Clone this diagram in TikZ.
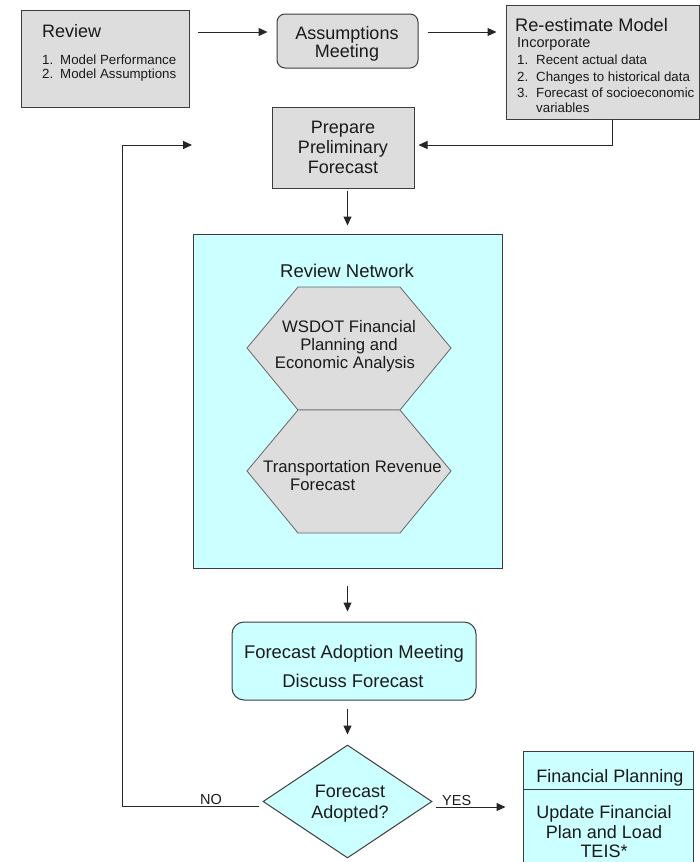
\documentclass[tikz,border=0pt]{standalone}
\usepackage{fontspec}
\setmainfont{Liberation Sans}
\usetikzlibrary{arrows.meta,shapes.geometric,calc}
\definecolor{boxgray}{HTML}{DDDDDD}
\definecolor{boxcyan}{HTML}{CCFFFF}
\definecolor{edgecol}{HTML}{3C3C3C}
\definecolor{txtcol}{HTML}{1A1A1A}
\newcommand{\fsz}[1]{\fontsize{#1}{#1}\selectfont}
\begin{document}
\begin{tikzpicture}[x=1pt,y=-1pt,
  box/.style={draw=edgecol,line width=1pt,inner sep=0pt},
  txt/.style={anchor=base,inner sep=0pt,text=txtcol},
  txtl/.style={anchor=base west,inner sep=0pt,text=txtcol},
  arr/.style={draw=black!85,line width=1pt,-{Triangle[length=9pt,width=8pt]}},
  hexa/.style={draw=black!60,line width=0.8pt,fill=boxgray}]
\useasboundingbox (0,0) rectangle (700,862);

% ---- boxes
\node[box,fill=boxgray,minimum width=168,minimum height=97] (review) at (105,58.5) {};
\node[box,fill=boxgray,rounded corners=8pt,minimum width=141,minimum height=54] (assume) at (347.5,41) {};
\node[box,fill=boxgray,minimum width=193,minimum height=114] (reest) at (602.5,62) {};
\node[box,fill=boxgray,minimum width=142,minimum height=81] (prepare) at (343,147.5) {};
\node[box,fill=boxcyan,minimum width=309,minimum height=334] (net) at (347.5,401) {};
\node[box,fill=boxcyan,rounded corners=12pt,minimum width=244,minimum height=78] (fam) at (354,661) {};
\node[box,diamond,fill=boxcyan,minimum width=169,minimum height=113] (dia) at (347.5,801.5) {};
\node[box,fill=boxcyan,minimum width=170,minimum height=129] (fin) at (608,815.5) {};
\draw[edgecol,line width=1pt] (fin.west |- 0,789) -- (fin.east |- 0,789);

% ---- hexagons
\draw[hexa] (247,348) -- (298,287) -- (400,287) -- (451,348) -- (400,410) -- (298,410) -- cycle;
\draw[hexa] (247,471) -- (298,410) -- (400,410) -- (451,471) -- (400,533) -- (298,533) -- cycle;

% ---- texts
\node[txtl,font=\fsz{18}] (t1) at (42,37.5) {Review};
\node[txtl,font=\fsz{13.3}] (t2) at (42,64) {1.};
\node[txtl,font=\fsz{13.3}] (t3) at (60,64) {Model Performance};
\node[txtl,font=\fsz{13.3}] (t4) at (42,78) {2.};
\node[txtl,font=\fsz{13.3}] (t5) at (60,78) {Model Assumptions};

\node[txt,font=\fsz{18}] (t6) at (347,39) {Assumptions};
\node[txt,font=\fsz{18}] (t7) at (347,57.5) {Meeting};

\node[txtl,font=\fsz{18.2}] (t8) at (515,31.5) {Re-estimate Model};
\node[txtl,font=\fsz{14.5}] (t9) at (517,47) {Incorporate};
\node[txtl,font=\fsz{13.3}] (t10) at (517,64) {1.};
\node[txtl,font=\fsz{13.3}] (t11) at (536,64) {Recent actual data};
\node[txtl,font=\fsz{13.3}] (t12) at (517,81) {2.};
\node[txtl,font=\fsz{13.3}] (t13) at (536,81) {Changes to historical data};
\node[txtl,font=\fsz{13.3}] (t14) at (517,97) {3.};
\node[txtl,font=\fsz{13.3}] (t15) at (536,97) {Forecast of socioeconomic};
\node[txtl,font=\fsz{13.3}] (t16) at (536,112) {variables};

\node[txt,font=\fsz{18}] (t17) at (343,133) {Prepare};
\node[txt,font=\fsz{18}] (t18) at (343,153) {Preliminary};
\node[txt,font=\fsz{18}] (t19) at (343,173) {Forecast};

\node[txt,font=\fsz{18.5}] (t20) at (347,277) {Review Network};
\node[txt,font=\fsz{16.7}] (t21) at (349,332) {WSDOT Financial};
\node[txt,font=\fsz{16.7}] (t22) at (349,350) {Planning and};
\node[txt,font=\fsz{16.7}] (t23) at (345,368) {Economic Analysis};
\node[txtl,font=\fsz{16.7}] (t24) at (263,472) {Transportation Revenue};
\node[txtl,font=\fsz{16.7}] (t25) at (290,490) {Forecast};

\node[txt,font=\fsz{18.4}] (t26) at (354,658) {Forecast Adoption Meeting};
\node[txt,font=\fsz{18.4}] (t27) at (353,687) {Discuss Forecast};

\node[txt,font=\fsz{18}] (t28) at (350,797) {Forecast};
\node[txt,font=\fsz{18}] (t29) at (350,818) {Adopted?};

\node[txt,font=\fsz{18}] (t30) at (610,782) {Financial Planning};
\node[txt,font=\fsz{18}] (t31) at (604,818) {Update Financial};
\node[txt,font=\fsz{18}] (t32) at (604,838) {Plan and Load};
\node[txt,font=\fsz{18}] (t33) at (604,857) {TEIS*};

\node[txtl,font=\fsz{14.5}] (no) at (200,804) {NO};
\node[txtl,font=\fsz{14.5}] (yes) at (442,805) {YES};

% ---- connectors
\coordinate (rp) at (612,145);
\coordinate (nb) at (122,145);
\coordinate (ne) at (192,145);
\draw[arr,shorten <=8pt,shorten >=9pt] (review.east |- 0,32) -- (assume.west |- 0,32);
\draw[arr,shorten <=9pt,shorten >=9pt] (assume.east |- 0,32) -- (reest.west |- 0,32);
\draw[arr,shorten >=4pt] (reest.south -| rp) -- (rp) -- (prepare.east |- rp);
\draw[arr,shorten <=2pt,shorten >=8pt] (net.north |- prepare.south) -- (net.north);
\draw[arr,shorten <=17pt,shorten >=10pt] (net.south) -- (net.south |- fam.north);
\draw[arr,shorten <=8pt,shorten >=10pt] (dia.north |- fam.south) -- (dia.north);
\draw[arr,shorten <=4pt] (dia.west |- 0,806) -| (nb) -- (ne);
\draw[arr,shorten <=3pt,shorten >=17pt] (dia.east |- 0,807) -- (fin.west |- 0,807);
\end{tikzpicture}
\end{document}
